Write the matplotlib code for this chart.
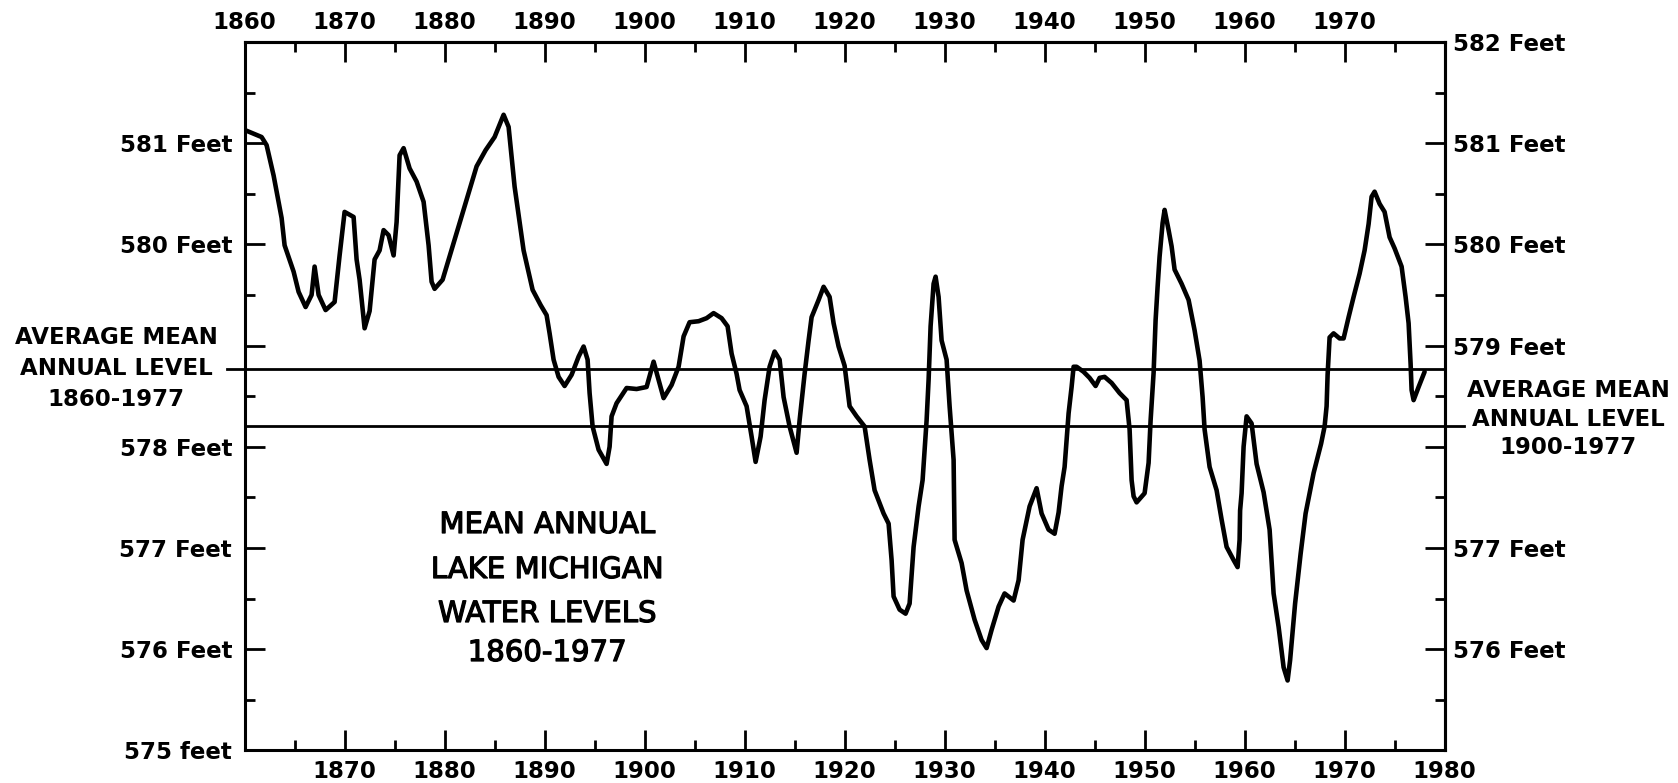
import matplotlib
matplotlib.use("Agg")
import matplotlib.pyplot as plt
import matplotlib.patheffects as pe

# traced mean annual levels (year, feet)
years = [
    1860.0, 1861.7, 1862.2, 1862.9, 1863.7, 1864.0, 1864.9, 1865.4, 1866.1, 1866.7,
    1867.0, 1867.4, 1868.1, 1869.0, 1869.5, 1870.0, 1870.9, 1871.2, 1871.5, 1872.0,
    1872.5, 1873.0, 1873.5, 1873.9, 1874.4, 1874.9, 1875.2, 1875.5, 1875.9, 1876.5,
    1877.2, 1877.9, 1878.4, 1878.7, 1879.0, 1879.8, 1880.5, 1882.0, 1883.2, 1884.1,
    1885.0, 1885.9, 1886.4, 1887.0, 1887.9, 1888.8, 1889.6, 1890.2, 1890.5, 1890.9,
    1891.4, 1892.0, 1892.7, 1893.4, 1893.9, 1894.3, 1894.5, 1894.8, 1895.4, 1896.2,
    1896.5, 1896.7, 1897.2, 1898.2, 1899.2, 1900.2, 1900.9, 1901.4, 1901.9, 1902.7,
    1903.4, 1903.9, 1904.5, 1905.4, 1906.2, 1906.9, 1907.7, 1908.3, 1908.7, 1909.2,
    1909.5, 1910.2, 1910.7, 1911.1, 1911.6, 1912.0, 1912.5, 1913.0, 1913.5, 1913.9,
    1914.5, 1915.2, 1915.5, 1916.0, 1916.4, 1916.7, 1917.4, 1917.9, 1918.5, 1918.9,
    1919.4, 1920.0, 1920.5, 1921.2, 1922.0, 1922.5, 1923.0, 1923.9, 1924.4, 1924.7,
    1924.9, 1925.5, 1926.1, 1926.5, 1926.9, 1927.4, 1927.8, 1928.2, 1928.4, 1928.6,
    1928.9, 1929.1, 1929.4, 1929.7, 1930.2, 1930.5, 1930.9, 1931.0, 1931.7, 1932.2,
    1933.0, 1933.7, 1934.2, 1934.7, 1935.4, 1936.0, 1936.9, 1937.4, 1937.8, 1938.5,
    1939.2, 1939.7, 1940.4, 1941.0, 1941.4, 1941.7, 1942.0, 1942.4, 1942.7, 1942.9,
    1943.2, 1943.9, 1944.5, 1945.1, 1945.5, 1946.0, 1946.7, 1947.5, 1948.2, 1948.5,
    1948.7, 1948.9, 1949.2, 1950.0, 1950.4, 1950.6, 1950.9, 1951.1, 1951.3, 1951.5,
    1951.8, 1952.0, 1952.4, 1952.7, 1953.0, 1953.7, 1954.4, 1955.0, 1955.5, 1955.8,
    1956.0, 1956.5, 1957.2, 1957.7, 1958.2, 1958.9, 1959.3, 1959.5, 1959.55, 1959.7,
    1959.9, 1960.2, 1960.7, 1961.2, 1961.9, 1962.5, 1962.9, 1963.4, 1963.9, 1964.3,
    1964.55, 1965.05, 1965.6, 1966.1, 1966.9, 1967.65, 1968.0, 1968.2, 1968.3, 1968.5,
    1968.9, 1969.5, 1969.9, 1970.4, 1970.9, 1971.5, 1972.0, 1972.4, 1972.7, 1973.0,
    1973.5, 1974.0, 1974.5, 1975.0, 1975.7, 1976.1, 1976.4, 1976.6, 1976.7, 1976.9,
    1977.4, 1978.0,
]
level_ft = [
    581.13, 581.06, 580.98, 580.68, 580.26, 579.99, 579.73, 579.53, 579.38, 579.50,
    579.78, 579.50, 579.35, 579.43, 579.89, 580.32, 580.27, 579.85, 579.65, 579.17,
    579.34, 579.85, 579.94, 580.14, 580.09, 579.89, 580.22, 580.88, 580.95, 580.75,
    580.62, 580.42, 579.99, 579.63, 579.56, 579.65, 579.88, 580.37, 580.77, 580.93,
    581.06, 581.28, 581.16, 580.57, 579.94, 579.55, 579.40, 579.30, 579.12, 578.86,
    578.69, 578.60, 578.71, 578.89, 578.99, 578.86, 578.53, 578.20, 577.97, 577.83,
    578.00, 578.30, 578.43, 578.58, 578.57, 578.59, 578.84, 578.66, 578.48, 578.61,
    578.79, 579.09, 579.23, 579.24, 579.27, 579.32, 579.27, 579.19, 578.92, 578.72,
    578.56, 578.40, 578.10, 577.85, 578.10, 578.46, 578.79, 578.94, 578.86, 578.49,
    578.20, 577.94, 578.26, 578.72, 579.05, 579.28, 579.45, 579.58, 579.48, 579.22,
    578.99, 578.80, 578.40, 578.30, 578.20, 577.87, 577.57, 577.34, 577.24, 576.88,
    576.52, 576.39, 576.35, 576.45, 577.01, 577.41, 577.67, 578.26, 578.66, 579.19,
    579.61, 579.68, 579.48, 579.05, 578.86, 578.40, 577.87, 577.08, 576.85, 576.58,
    576.29, 576.09, 576.01, 576.19, 576.42, 576.55, 576.48, 576.68, 577.08, 577.41,
    577.59, 577.34, 577.18, 577.14, 577.35, 577.61, 577.80, 578.33, 578.59, 578.79,
    578.79, 578.74, 578.68, 578.60, 578.68, 578.69, 578.63, 578.53, 578.46, 578.17,
    577.67, 577.51, 577.45, 577.54, 577.84, 578.26, 578.73, 579.25, 579.58, 579.88,
    580.21, 580.34, 580.14, 579.98, 579.75, 579.61, 579.45, 579.15, 578.85, 578.49,
    578.17, 577.80, 577.57, 577.28, 577.01, 576.88, 576.81, 577.08, 577.37, 577.54,
    578.00, 578.30, 578.23, 577.83, 577.55, 577.18, 576.55, 576.22, 575.82, 575.69,
    575.89, 576.45, 576.94, 577.34, 577.74, 578.03, 578.20, 578.40, 578.71, 579.08,
    579.12, 579.07, 579.07, 579.28, 579.48, 579.71, 579.94, 580.20, 580.47, 580.52,
    580.40, 580.32, 580.07, 579.96, 579.78, 579.48, 579.22, 578.82, 578.56, 578.46,
    578.59, 578.74,
]

avg_1860_1977 = 578.77
avg_1900_1977 = 578.20

decades = list(range(1860, 1990, 10))
half_decades = list(range(1865, 1980, 10))
feet = list(range(575, 583))
half_feet = [575.5 + i for i in range(7)]

left_labels = {575: "575 feet", 576: "576 Feet", 577: "577 Feet", 578: "578 Feet",
               580: "580 Feet", 581: "581 Feet"}
right_labels = {576: "576 Feet", 577: "577 Feet", 579: "579 Feet", 580: "580 Feet",
                581: "581 Feet", 582: "582 Feet"}

W, H = 1678, 783
fig = plt.figure(figsize=(W / 100, H / 100), dpi=100)
ax = fig.add_axes([244.6 / W, 1 - 750.3 / H, 1200 / W, 708.4 / H])

ax.plot(years, level_ft, color="black", lw=3.3, solid_joinstyle="round",
        solid_capstyle="round")

# average lines, the first runs out to the left label, the second to the right one
ax.plot([1858.2, 1980], [avg_1860_1977] * 2, color="black", lw=2.0, clip_on=False)
ax.plot([1860, 1981.9], [avg_1900_1977] * 2, color="black", lw=2.0, clip_on=False)

ax.set_xlim(1860, 1980)
ax.set_ylim(575, 582)

tick_font = dict(fontsize=16.5, fontweight="bold")
maj = dict(direction="in", length=14.5, width=2)
mnr = dict(direction="in", length=7.5, width=2)

# bottom / left
ax.set_xticks(decades)
ax.set_xticklabels(["" if d == 1860 else str(d) for d in decades], **tick_font)
ax.set_xticks(half_decades, minor=True)
ax.set_yticks(feet)
ax.set_yticklabels([left_labels.get(f, "") for f in feet], **tick_font)
ax.set_yticks(half_feet, minor=True)
ax.tick_params(axis="x", which="major", pad=7, **maj)
ax.tick_params(axis="x", which="minor", **mnr)
ax.tick_params(axis="y", which="major", pad=9, **maj)
ax.tick_params(axis="y", which="minor", **mnr)

# top / right
top = ax.secondary_xaxis("top")
top.set_xticks(decades)
top.set_xticklabels(["" if d == 1980 else str(d) for d in decades], **tick_font)
top.set_xticks(half_decades, minor=True)
top.tick_params(which="major", pad=6, **maj)
top.tick_params(which="minor", **mnr)

right = ax.secondary_yaxis("right")
right.set_yticks(feet)
right.set_yticklabels([right_labels.get(f, "") for f in feet], **tick_font)
right.set_yticks(half_feet, minor=True)
right.tick_params(which="major", pad=6, **maj)
right.tick_params(which="minor", **mnr)

for a in (ax, top, right):
    for s in a.spines.values():
        s.set_linewidth(2.2)

lab = dict(fontsize=16.5, fontweight="bold", ha="center", va="center")
for txt, y in zip(["AVERAGE MEAN", "ANNUAL LEVEL", "1860-1977"], [337, 368, 399]):
    fig.text(116 / W, 1 - y / H, txt, **lab)
for txt, y in zip(["AVERAGE MEAN", "ANNUAL LEVEL", "1900-1977"], [391, 420, 448]):
    fig.text(1568 / W, 1 - y / H, txt, **lab)

# the centre note is set a bit heavier than book weight
heavier = [pe.withStroke(linewidth=0.9, foreground="black")]
title_lines = ["MEAN ANNUAL", "LAKE MICHIGAN", "WATER LEVELS", "1860-1977"]
for txt, y in zip(title_lines, [525, 570, 614, 653]):
    fig.text(547 / W, 1 - y / H, txt, fontsize=21, ha="center", va="center",
             path_effects=heavier)

fig.savefig("out.png", dpi=100)
